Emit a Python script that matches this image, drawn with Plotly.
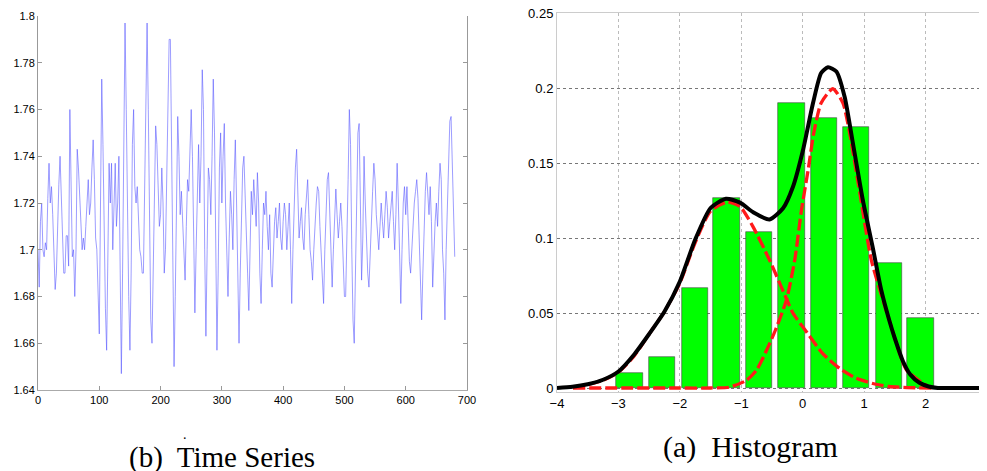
import plotly.graph_objects as go

# left panel: time series (every 2nd sample)
ts_vals = [
    1.700, 1.684, 1.712, 1.720, 1.700, 1.697, 1.703, 1.700, 1.722, 1.737, 1.720, 1.727, 1.715, 1.700, 1.683, 1.690, 1.712, 1.728, 1.740, 1.725, 1.706,
    1.690, 1.690, 1.706, 1.706, 1.693, 1.760, 1.720, 1.697, 1.700, 1.680, 1.700, 1.743, 1.735, 1.725, 1.712, 1.700, 1.705, 1.700, 1.710, 1.722,
    1.730, 1.715, 1.720, 1.735, 1.747, 1.730, 1.705, 1.700, 1.680, 1.664, 1.720, 1.773, 1.745, 1.700, 1.675, 1.657, 1.700, 1.737, 1.720, 1.737,
    1.700, 1.715, 1.737, 1.710, 1.720, 1.740, 1.700, 1.647, 1.690, 1.750, 1.797, 1.760, 1.710, 1.680, 1.657, 1.690, 1.745, 1.760, 1.727, 1.720,
    1.727, 1.715, 1.700, 1.697, 1.690, 1.690, 1.720, 1.760, 1.797, 1.760, 1.700, 1.670, 1.660, 1.690, 1.720, 1.753, 1.745, 1.725, 1.710, 1.715,
    1.735, 1.720, 1.690, 1.700, 1.730, 1.760, 1.790, 1.790, 1.740, 1.690, 1.650, 1.680, 1.720, 1.757, 1.740, 1.715, 1.725, 1.710, 1.695, 1.687,
    1.710, 1.730, 1.725, 1.745, 1.760, 1.740, 1.700, 1.673, 1.700, 1.730, 1.745, 1.720, 1.740, 1.777, 1.760, 1.700, 1.663, 1.700, 1.735, 1.730,
    1.715, 1.740, 1.773, 1.750, 1.700, 1.657, 1.690, 1.735, 1.750, 1.720, 1.740, 1.754, 1.720, 1.695, 1.680, 1.705, 1.725, 1.715, 1.700, 1.730,
    1.747, 1.720, 1.690, 1.660, 1.690, 1.720, 1.735, 1.740, 1.720, 1.700, 1.690, 1.674, 1.700, 1.725, 1.715, 1.730, 1.720, 1.710, 1.733, 1.720,
    1.690, 1.677, 1.700, 1.720, 1.715, 1.725, 1.710, 1.700, 1.715, 1.690, 1.684, 1.700, 1.712, 1.718, 1.705, 1.712, 1.720, 1.705, 1.700, 1.712,
    1.720, 1.715, 1.700, 1.710, 1.720, 1.700, 1.677, 1.700, 1.725, 1.735, 1.743, 1.720, 1.705, 1.712, 1.718, 1.705, 1.700, 1.715, 1.725, 1.730,
    1.715, 1.700, 1.695, 1.687, 1.700, 1.712, 1.720, 1.727, 1.725, 1.710, 1.700, 1.690, 1.677, 1.700, 1.720, 1.730, 1.733, 1.715, 1.700, 1.684,
    1.700, 1.715, 1.726, 1.715, 1.705, 1.712, 1.720, 1.710, 1.695, 1.680, 1.680, 1.700, 1.730, 1.760, 1.745, 1.700, 1.670, 1.660, 1.690, 1.725,
    1.750, 1.754, 1.720, 1.687, 1.705, 1.740, 1.720, 1.700, 1.690, 1.684, 1.700, 1.715, 1.725, 1.737, 1.730, 1.715, 1.705, 1.700, 1.710, 1.720,
    1.712, 1.705, 1.715, 1.725, 1.718, 1.705, 1.712, 1.720, 1.725, 1.712, 1.700, 1.715, 1.737, 1.720, 1.690, 1.677, 1.700, 1.720, 1.727, 1.715,
    1.727, 1.705, 1.695, 1.690, 1.700, 1.712, 1.720, 1.725, 1.730, 1.722, 1.705, 1.685, 1.670, 1.690, 1.712, 1.725, 1.733, 1.726, 1.715, 1.727,
    1.712, 1.684, 1.700, 1.712, 1.720, 1.710, 1.725, 1.737, 1.730, 1.700, 1.690, 1.670, 1.700, 1.720, 1.740, 1.755, 1.757, 1.740, 1.720, 1.697,
]
ts_x = list(range(0, 2 * len(ts_vals), 2))

ts_xticks = [0, 100, 200, 300, 400, 500, 600, 700]
ts_yticks = [1.64, 1.66, 1.68, 1.70, 1.72, 1.74, 1.76, 1.78, 1.80]
ts_ylabels = ["1.64", "1.66", "1.68", "1.7", "1.72", "1.74", "1.76", "1.78", "1.8"]

# right panel: histogram + mixture fit
bar_x = [-2.82, -2.29, -1.75, -1.24, -0.71, -0.18, 0.35, 0.87, 1.40, 1.92]
bar_h = [0.010, 0.0205, 0.067, 0.127, 0.104, 0.190, 0.180, 0.174, 0.0835, 0.0467]

mix_x = [-4.0, -3.75, -3.5, -3.25, -3.0, -2.75, -2.5, -2.25, -2.0, -1.75, -1.5, -1.25,
         -1.02, -0.8, -0.54, -0.32, -0.16, 0.005, 0.168, 0.30, 0.412, 0.548, 0.683,
         0.818, 0.98, 1.143, 1.28, 1.41, 1.5, 1.63, 1.75, 1.9, 2.05, 2.2, 2.5, 3.0]
mix_y = [0.0, 0.0008, 0.0025, 0.0055, 0.011, 0.022, 0.036, 0.051, 0.071, 0.099, 0.120, 0.1262,
         0.1236, 0.117, 0.1124, 0.1198, 0.134, 0.1587, 0.190, 0.210, 0.2138, 0.211, 0.194,
         0.163, 0.125, 0.093, 0.065, 0.045, 0.033, 0.018, 0.009, 0.0035, 0.001, 0.0, 0.0, 0.0]

comp1_x = [-3.74, -3.5, -3.25, -3.0, -2.75, -2.5, -2.25, -2.0, -1.75, -1.5, -1.22, -1.02,
           -0.81, -0.54, -0.27, -0.16, 0.06, 0.33, 0.6, 0.87, 1.14, 1.4, 1.7, 2.1]
comp1_y = [0.0005, 0.0022, 0.0052, 0.0105, 0.021, 0.036, 0.051, 0.070, 0.097, 0.118, 0.124, 0.121,
           0.1076, 0.0853, 0.060, 0.050, 0.0375, 0.0227, 0.0131, 0.0065, 0.003, 0.001, 0.0003, 0.0]

comp2_x = [-3.74, -2.0, -1.5, -1.2, -0.92, -0.75, -0.59, -0.45, -0.265, -0.13, -0.02, 0.087,
           0.18, 0.30, 0.49, 0.655, 0.764, 0.93, 1.117, 1.41, 1.69, 2.0, 2.1]
comp2_y = [0.0, 0.0, 0.0, 0.0005, 0.005, 0.012, 0.025, 0.038, 0.0587, 0.0853, 0.1187, 0.145,
           0.170, 0.190, 0.1995, 0.190, 0.170, 0.130, 0.0853, 0.045, 0.012, 0.002, 0.0]

hist_xticks = [-4, -3, -2, -1, 0, 1, 2, 3]
hist_yticks = [0, 0.05, 0.1, 0.15, 0.2, 0.25]
hist_ylabels = ["0", "0.05", "0.1", "0.15", "0.2", "0.25"]

# the page puts the figure 8px in from the top-left corner, so size it to fit
W, H = 987, 471
OFF = 8
FW, FH = W - OFF, H - OFF


def fx(p):
    return (p - OFF) / FW


def fy(p):
    return 1 - (p - OFF) / FH


tick_font_l = dict(family="Liberation Sans, Arial", size=11, color="black")
tick_font_r = dict(family="Liberation Sans, Arial", size=13, color="black")
cap_font = "Liberation Serif, Times New Roman"

fig = go.Figure()

fig.add_trace(go.Scatter(x=ts_x, y=ts_vals, mode="lines",
                         line=dict(color="#5a5aff", width=0.6),
                         xaxis="x", yaxis="y", showlegend=False))

fig.add_trace(go.Bar(x=bar_x, y=bar_h, width=0.43,
                     marker=dict(color="#00ff00", line=dict(color="#444", width=0.6)),
                     xaxis="x2", yaxis="y2", showlegend=False))
for cx, cy in [(comp1_x, comp1_y), (comp2_x, comp2_y)]:
    fig.add_trace(go.Scatter(x=cx, y=cy, mode="lines",
                             line=dict(color="#ff1a1a", width=3.3, dash="12px,4px",
                                       shape="spline", smoothing=0.6),
                             xaxis="x2", yaxis="y2", showlegend=False))
fig.add_trace(go.Scatter(x=mix_x, y=mix_y, mode="lines",
                         line=dict(color="black", width=4, shape="spline", smoothing=0.6),
                         xaxis="x2", yaxis="y2", showlegend=False))

# y range dips a hair below 0 so the curves lying on the baseline are not clipped
y2_lo = -0.0025
y2_bottom_px = 388 + 0.0025 * 1500

fig.update_layout(
    width=FW, height=FH,
    margin=dict(l=0, r=0, t=0, b=0),
    paper_bgcolor="white", plot_bgcolor="white",
    bargap=0,
    xaxis=dict(domain=[fx(38), fx(467)], range=[0, 700], tickvals=ts_xticks,
               ticks="inside", ticklen=4, tickcolor="#999", showline=True,
               linecolor="#aaa", showgrid=False, zeroline=False, tickfont=tick_font_l,
               automargin=False, ticklabeloverflow="allow"),
    xaxis3=dict(overlaying="x", anchor="y", side="top", range=[0, 700],
                tickvals=ts_xticks, showticklabels=False, ticks="inside", ticklen=4,
                tickcolor="#999", showline=False, showgrid=False, zeroline=False,
                automargin=False),
    yaxis=dict(domain=[fy(390), fy(16)], range=[1.64, 1.80],
               tickvals=ts_yticks, ticktext=ts_ylabels, ticks="inside", ticklen=4,
               tickcolor="#999", showline=True, mirror="ticks", linecolor="#999",
               showgrid=False, zeroline=False, tickfont=tick_font_l, automargin=False,
               ticklabeloverflow="allow"),
    xaxis2=dict(domain=[fx(557), 1.0], range=[-4, 3], tickvals=hist_xticks,
                anchor="y2", ticks="", showline=True, mirror=True, linecolor="#ccc",
                showgrid=True, gridcolor="#bbb", griddash="dot", gridwidth=1,
                zeroline=False, tickfont=tick_font_r, automargin=False,
                ticklabeloverflow="allow"),
    yaxis2=dict(domain=[fy(y2_bottom_px), fy(13)], range=[y2_lo, 0.25],
                tickvals=hist_yticks, ticktext=hist_ylabels, anchor="x2", ticks="",
                showline=True, mirror=True, linecolor="#ccc", showgrid=True,
                gridcolor="#777", griddash="dot", gridwidth=1, zeroline=False,
                tickfont=tick_font_r, automargin=False, ticklabeloverflow="allow"),
    annotations=[
        dict(text="(b)\u00a0 Time Series", x=fx(222), y=fy(457), xref="paper",
             yref="paper", xanchor="center", yanchor="middle", showarrow=False,
             font=dict(family=cap_font, size=29, color="black")),
        dict(text="(a)\u00a0 Histogram", x=fx(750), y=fy(447), xref="paper",
             yref="paper", xanchor="center", yanchor="middle", showarrow=False,
             font=dict(family=cap_font, size=30, color="black")),
        dict(text=".", x=fx(185), y=fy(434), xref="paper", yref="paper",
             xanchor="center", yanchor="middle", showarrow=False,
             font=dict(family=cap_font, size=14, color="black")),
    ],
)

fig.write_html("out.html")
